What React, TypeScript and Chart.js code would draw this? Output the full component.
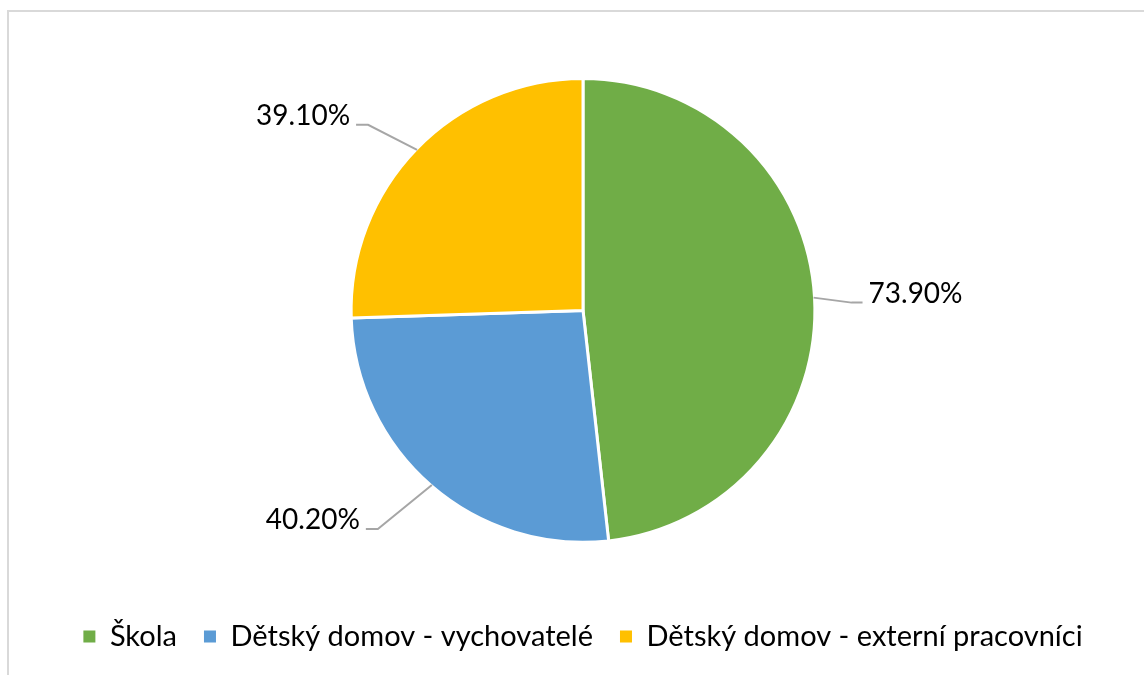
import React, { useEffect, useRef } from "react";
import { Chart, registerables } from "chart.js";

Chart.register(...registerables);

const categories = ["Škola", "Dětský domov - vychovatelé", "Dětský domov - externí pracovníci"];
const values = [73.9, 40.2, 39.1];
const valueLabels = ["73.90%", "40.20%", "39.10%"];
const colors = ["#70AD47", "#5B9BD5", "#FFC000"];

// leader line elbow offsets (dx, dy) from the arc edge at the slice's mid angle
const leaderElbows: [number, number][] = [
  [38, 5],
  [-54, 44],
  [-49, -25],
];

const FONT = "Lato, 'Open Sans', sans-serif";

const leaderLabels = {
  id: "leaderLabels",
  afterDatasetsDraw(chart: any) {
    const ctx = chart.ctx;
    const meta = chart.getDatasetMeta(0);
    ctx.save();
    meta.data.forEach((arc: any, i: number) => {
      const { x, y, startAngle, endAngle, outerRadius } = arc.getProps(
        ["x", "y", "startAngle", "endAngle", "outerRadius"],
        true
      );
      const mid = (startAngle + endAngle) / 2;
      const ax = x + Math.cos(mid) * (outerRadius - 1);
      const ay = y + Math.sin(mid) * (outerRadius - 1);
      const [dx, dy] = leaderElbows[i];
      const ex = ax + dx;
      const ey = ay + dy;
      const right = dx > 0;
      const sx = ex + (right ? 11 : -12);
      ctx.strokeStyle = "#A6A6A6";
      ctx.lineWidth = 2;
      ctx.beginPath();
      ctx.moveTo(ax, ay);
      ctx.lineTo(ex, ey);
      ctx.lineTo(sx, ey);
      ctx.stroke();
      ctx.fillStyle = "#000";
      ctx.font = `28px ${FONT}`;
      ctx.textBaseline = "middle";
      ctx.textAlign = right ? "left" : "right";
      ctx.fillText(valueLabels[i], sx + (right ? 6 : -6), ey - 9);
    });
    ctx.restore();
  },
};

export default function App() {
  const ref = useRef<HTMLCanvasElement>(null);
  useEffect(() => {
    if (!ref.current) return;
    const chart = new Chart(ref.current, {
      type: "pie",
      data: {
        labels: categories,
        datasets: [
          {
            data: values,
            backgroundColor: colors,
            borderColor: "#FFFFFF",
            borderWidth: 3,
          },
        ],
      },
      options: {
        responsive: false,
        animation: false,
        devicePixelRatio: 1,
        layout: { padding: { left: 22, right: 0, top: 77, bottom: 14 } },
        plugins: {
          tooltip: { enabled: false },
          legend: {
            position: "bottom",
            title: { display: true, text: "", font: { size: 1 }, padding: { top: 50, bottom: 0 } },
            labels: {
              boxWidth: 12,
              boxHeight: 12,
              padding: 27,
              color: "#000",
              font: { size: 29, family: FONT },
              generateLabels: (c: any) =>
                Chart.overrides.pie.plugins.legend.labels
                  .generateLabels(c)
                  .map((l: any) => ({ ...l, lineWidth: 0, strokeStyle: "rgba(0,0,0,0)" })),
            },
          },
        },
      },
      plugins: [leaderLabels],
    });
    return () => chart.destroy();
  }, []);
  return (
    <div
      style={{
        position: "absolute",
        left: 0,
        top: 0,
        width: 1144,
        height: 675,
        overflow: "hidden",
        background: "#fff",
      }}
    >
      <div
        style={{
          position: "absolute",
          left: 7,
          top: 10,
          width: 1200,
          height: 800,
          border: "2px solid #D9D9D9",
        }}
      />
      <canvas
        ref={ref}
        width={1144}
        height={675}
        style={{ position: "absolute", left: 0, top: 0, width: 1144, height: 675 }}
      />
    </div>
  );
}
